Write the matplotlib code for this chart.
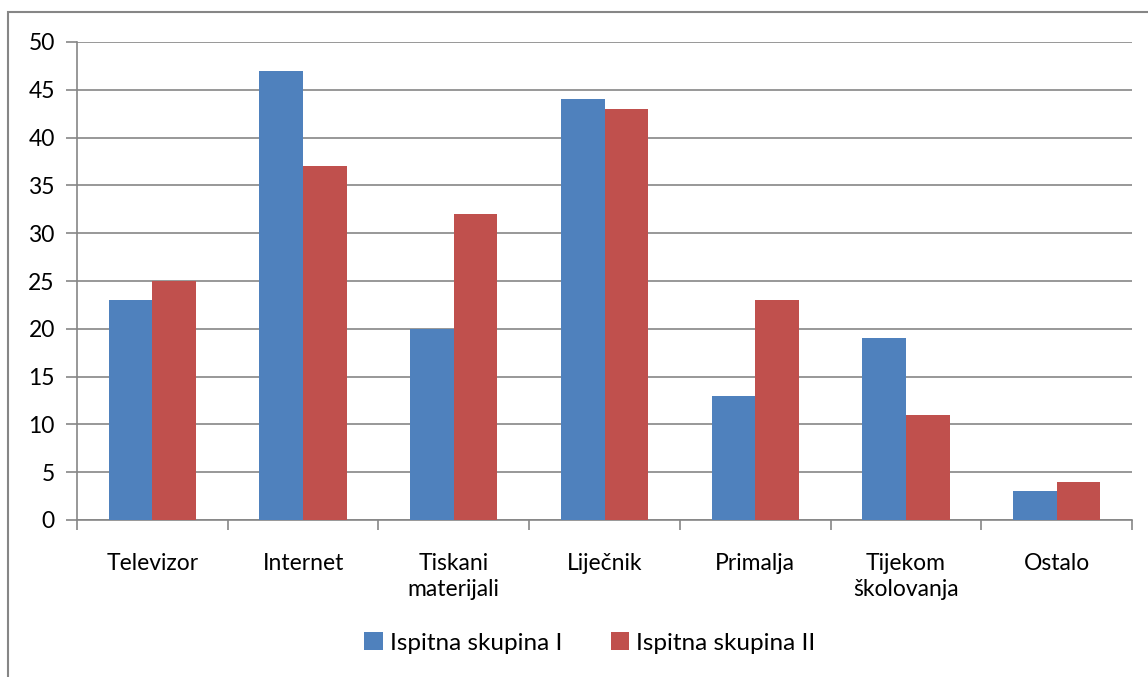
import numpy as np
import matplotlib.pyplot as plt
from matplotlib.patches import Rectangle

categories = ['Televizor', 'Internet', 'Tiskani\nmaterijali', 'Liječnik',
              'Primalja', 'Tijekom\nškolovanja', 'Ostalo']
skupina_1 = [23, 47, 20, 44, 13, 19, 3]
skupina_2 = [25, 37, 32, 43, 23, 11, 4]
labels = ['Ispitna skupina I', 'Ispitna skupina II']

plt.rcParams['font.family'] = ['Lato', 'DejaVu Sans']
fs = 16.5

fig = plt.figure(figsize=(11.48, 6.77), dpi=100)
ax = fig.add_axes([77 / 1148, 1 - 520 / 677, (1132 - 77) / 1148, (520 - 42) / 677])

# okvir oko grafikona
fig.patches.append(Rectangle((8 / 1148, -0.1), 1.2, 1 - 12 / 677 + 0.1,
                             transform=fig.transFigure, fill=False,
                             edgecolor='#868686', lw=1.5))

x = np.arange(len(categories))
w = 0.29
ax.bar(x - w / 2, skupina_1, w, color='#4F81BD', label=labels[0], zorder=3)
ax.bar(x + w / 2, skupina_2, w, color='#C0504D', label=labels[1], zorder=3)

ax.set_xlim(-0.5, len(categories) - 0.5)
ax.set_ylim(0, 50)
ax.set_yticks(range(0, 51, 5))
ax.yaxis.grid(True, color='#868686', lw=1.2, zorder=0)

ax.set_xticks(x)
ax.set_xticklabels(categories, fontsize=fs, linespacing=1.3, va='top')
ax.set_xticks(np.arange(-0.5, len(categories)), minor=True)
ax.tick_params(axis='x', which='major', length=0, pad=24)
ax.tick_params(axis='x', which='minor', length=7, color='#868686', width=1.2)
ax.tick_params(axis='y', length=8, color='#868686', width=1.2, labelsize=fs, pad=8)

for s in ['top', 'right']:
    ax.spines[s].set_visible(False)
for s in ['left', 'bottom']:
    ax.spines[s].set_color('#868686')
    ax.spines[s].set_linewidth(1.2)

fig.legend(loc='center', bbox_to_anchor=(590 / 1148, 1 - 643 / 677), ncol=2, frameon=False,
           fontsize=17.5, handlelength=0.75, handleheight=0.75, handletextpad=0.3,
           columnspacing=2.0)

fig.savefig('out.png', dpi=100)
